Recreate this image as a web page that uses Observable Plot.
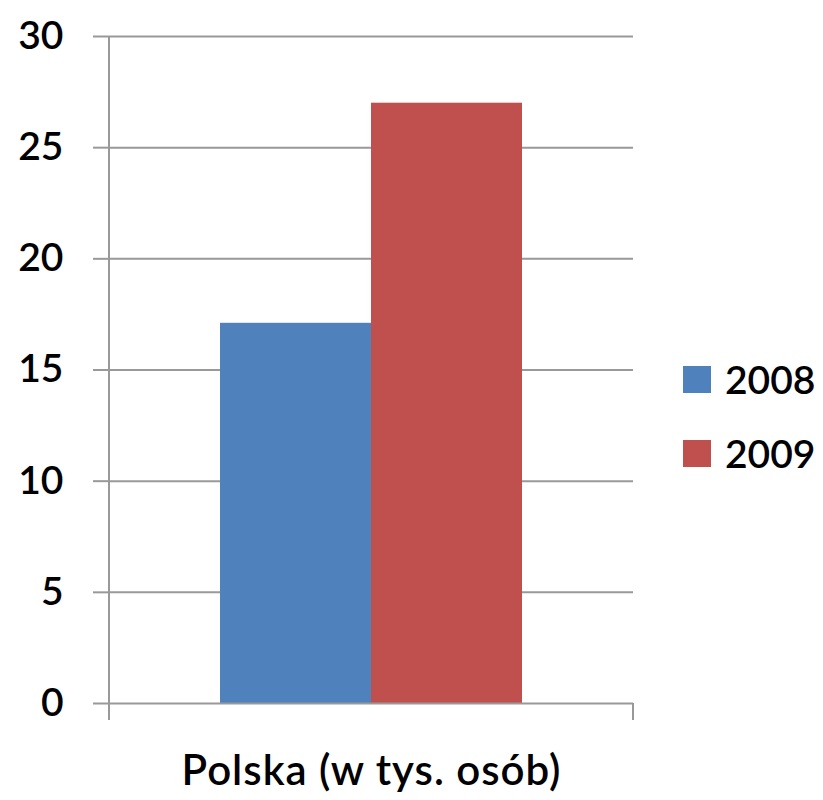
<!DOCTYPE html>
<html><head><meta charset="utf-8">
<script src="https://cdn.jsdelivr.net/npm/d3@7"></script>
<script src="https://cdn.jsdelivr.net/npm/@observablehq/plot@0.6"></script>
<style>
body{margin:0;background:#fff;}
#wrap{position:relative;width:823px;height:800px;font-family:Lato,sans-serif;}
.legend{position:absolute;left:683px;top:342px;}
.row{display:flex;align-items:center;height:74px;font-size:39px;font-weight:600;color:#000;line-height:1;}
.sw{width:28px;height:27px;margin-right:14px;}
.cat text{letter-spacing:1px;}
</style></head><body><div id="wrap"></div>
<script>
const categories = ["Polska (w tys. osób)"];
const years = ["2008", "2009"];
const values = [17.1, 27.0];
const colors = ["#4F81BD", "#C0504D"];
const yTicks = [0, 5, 10, 15, 20, 25, 30];

const data = years.map((y, i) => ({category: categories[0], year: y, value: values[i]}));

const chart = Plot.plot({
  width: 823, height: 800,
  marginLeft: 109, marginRight: 190, marginTop: 36, marginBottom: 97,
  style: {fontFamily: "Lato, sans-serif", fontSize: "39px", color: "#000", background: "#fff"},
  x: {domain: years, paddingInner: 0, paddingOuter: 0.735, axis: null},
  y: {domain: [0, 30], ticks: yTicks},
  color: {domain: years, range: colors},
  marks: [
    Plot.gridY(yTicks.filter(d => d > 0), {stroke: "#999", strokeOpacity: 1, strokeWidth: 2}),
    Plot.axisY(yTicks, {tickSize: 16, tickPadding: 30, stroke: "#999", strokeWidth: 2, fontSize: 39, fontWeight: 600, label: null}),
    Plot.barY(data, {x: "year", y: "value", fill: "year"}),
    Plot.ruleY([0], {stroke: "#999", strokeWidth: 2}),
    Plot.text(categories, {frameAnchor: "bottom", dy: 68, fontSize: 42, fontWeight: 600, lineAnchor: "middle", className: "cat"})
  ]
});

const wrap = document.getElementById("wrap");
wrap.appendChild(chart);

// category-boundary ticks and vertical axis line, derived from the scales
const xs = chart.scale("x"), ys = chart.scale("y");
const [xL, xR] = xs.range;
const y0 = ys.apply(0), yTop = ys.apply(d3.max(yTicks));
const g = d3.select(chart).append("g").attr("stroke", "#999").attr("stroke-width", 2);
g.append("line").attr("x1", xL).attr("x2", xL).attr("y1", yTop).attr("y2", y0 + 17);
g.append("line").attr("x1", xR).attr("x2", xR).attr("y1", y0).attr("y2", y0 + 17);

// legend
const cs = chart.scale("color");
const leg = document.createElement("div");
leg.className = "legend";
years.forEach(y => {
  const row = document.createElement("div");
  row.className = "row";
  const sw = document.createElement("div");
  sw.className = "sw";
  sw.style.background = cs.apply(y);
  const t = document.createElement("span");
  t.textContent = y;
  row.appendChild(sw); row.appendChild(t);
  leg.appendChild(row);
});
wrap.appendChild(leg);
</script></body></html>
